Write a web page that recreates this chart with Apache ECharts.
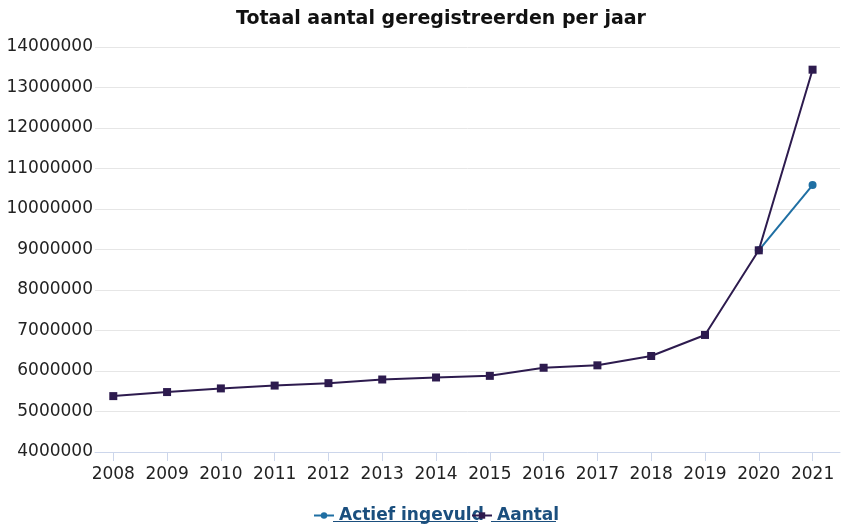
<!DOCTYPE html>
<html><head><meta charset="utf-8">
<script src="https://cdn.jsdelivr.net/npm/echarts@6/dist/echarts.min.js"></script>
<style>html,body{margin:0;padding:0;background:#fff}#c{width:845px;height:524px}</style>
</head><body><div id="c"></div>
<script>
const title = 'Totaal aantal geregistreerden per jaar';
const years = [2008,2009,2010,2011,2012,2013,2014,2015,2016,2017,2018,2019,2020,2021];
const aantal = [5380000,5480000,5570000,5640000,5700000,5790000,5840000,5880000,6080000,6140000,6370000,6890000,8980000,13440000];
const actief = [null,null,null,null,null,null,null,null,null,null,null,null,8980000,10590000];
const seriesNames = ['Actief ingevuld','Aantal'];
const yTicks = {min:4000000, max:14000000, interval:1000000};

const chart = echarts.init(document.getElementById('c'));
const font = '"DejaVu Sans", Verdana, sans-serif';
const legendColor = '#1b4f7e';
chart.setOption({
  animation:false,
  textStyle:{fontFamily:font},
  title:{text:title,left:231,top:5,textStyle:{fontFamily:font,fontSize:19,fontWeight:'bold',color:'#111'}},
  grid:{left:95,right:5,top:47,bottom:72},
  legend:[
    {data:[seriesNames[0]],left:308,top:502,itemWidth:20,itemHeight:8,itemGap:0,
     textStyle:{fontFamily:font,fontSize:17,fontWeight:'bold',color:legendColor}},
    {data:[seriesNames[1]],left:466,top:502,itemWidth:20,itemHeight:8,itemGap:0,
     textStyle:{fontFamily:font,fontSize:17,fontWeight:'bold',color:legendColor}}
  ],
  graphic:[
    {type:'line',shape:{x1:333,y1:521.5,x2:478,y2:521.5},style:{stroke:legendColor,lineWidth:1}},
    {type:'line',shape:{x1:491,y1:521.5,x2:556,y2:521.5},style:{stroke:legendColor,lineWidth:1}}
  ],
  xAxis:{type:'value',min:2007.66,max:2021.51,
    axisLine:{lineStyle:{color:'#ccd6eb'}},
    axisTick:{show:true,length:9,customValues:years,lineStyle:{color:'#ccd6eb'}},
    axisLabel:{customValues:years,margin:14,fontFamily:font,fontSize:17,color:'#222',formatter:v=>String(v)},
    splitLine:{show:false}},
  yAxis:{type:'value',min:yTicks.min,max:yTicks.max,interval:yTicks.interval,
    axisLine:{show:false},axisTick:{show:false},
    axisLabel:{margin:2,fontFamily:font,fontSize:17,color:'#222',formatter:v=>String(v)},
    splitLine:{lineStyle:{color:'#e6e6e6'}}},
  series:[
    {name:seriesNames[0],type:'line',data:years.map((y,i)=>[y,actief[i]]),
     symbol:'circle',symbolSize:8,color:'#1f6fa3',lineStyle:{width:2},z:2},
    {name:seriesNames[1],type:'line',data:years.map((y,i)=>[y,aantal[i]]),
     symbol:'rect',symbolSize:8,color:'#2d1b4e',lineStyle:{width:2},z:3}
  ]
});
</script></body></html>
